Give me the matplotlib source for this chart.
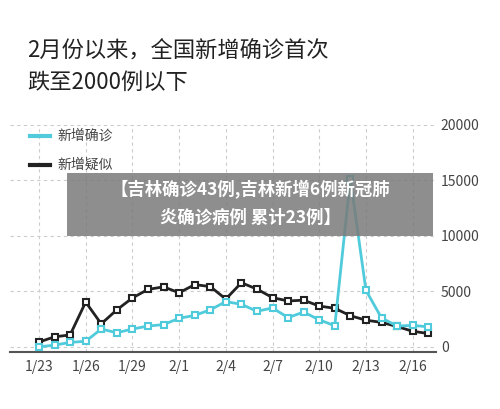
import matplotlib
matplotlib.use("Agg")
import matplotlib.pyplot as plt
from matplotlib.patches import Rectangle

plt.rcParams['font.family'] = ['Noto Sans CJK SC', 'DejaVu Sans']

dates = ['1/23','1/24','1/25','1/26','1/27','1/28','1/29','1/30','1/31','2/1','2/2','2/3','2/4',
         '2/5','2/6','2/7','2/8','2/9','2/10','2/11','2/12','2/13','2/14','2/15','2/16','2/17']
confirmed = [0, 150, 400, 500, 1600, 1270, 1600, 1870, 2000, 2570, 2830, 3330, 4070, 3830, 3200,
             3500, 2630, 3130, 2430, 1900, 15150, 5090, 2600, 1870, 1930, 1800]
suspected = [430, 900, 1070, 4030, 2070, 3330, 4400, 5170, 5400, 4870, 5600, 5430, 4300, 5770,
             5200, 4430, 4130, 4200, 3670, 3470, 2800, 2400, 2200, 1830, 1400, 1200]
tick_labels = ['1/23','1/26','1/29','2/1','2/4','2/7','2/10','2/13','2/16']
yticks = [0, 5000, 10000, 15000, 20000]

fig = plt.figure(figsize=(5, 4.09), dpi=100)
fig.patch.set_facecolor('white')
ax = fig.add_axes([0.02, 0.139, 0.852, 0.556])
x = list(range(len(dates)))
ax.plot(x, suspected, color='#222222', lw=2, marker='s', ms=4.5, mfc='white', mew=1.5, zorder=3)
ax.plot(x, confirmed, color='#4fcbdb', lw=2, marker='s', ms=4.5, mfc='white', mew=1.5, zorder=4)
ax.set_xlim(-1.86, 25.5)
ax.set_ylim(-480, 20000)
ax.set_xticks([dates.index(t) for t in tick_labels])
ax.set_xticklabels(tick_labels)
ax.yaxis.tick_right()
ax.set_yticks(yticks)
ax.set_yticklabels([str(v) for v in yticks])
ax.tick_params(length=0, labelsize=10, colors='#444444')
ax.tick_params(axis='x', pad=6)
ax.grid(True, color='#cccccc', ls=(0, (3, 3)), lw=0.8)
for s in ['top', 'right', 'left']:
    ax.spines[s].set_visible(False)
ax.spines['bottom'].set_color('#555555')
ax.spines['bottom'].set_linewidth(1.5)

fig.text(0.055, 0.875, '2月份以来，全国新增确诊首次', fontsize=16, weight='medium', color='#222222', va='center')
fig.text(0.055, 0.798, '跌至2000例以下', fontsize=16, weight='medium', color='#222222', va='center')

for yy, col, lab in [(0.668, '#4fcbdb', '新增确诊'), (0.596, '#222222', '新增疑似')]:
    fig.add_artist(plt.Line2D([0.06, 0.10], [yy, yy], color=col, lw=3, transform=fig.transFigure))
    fig.text(0.115, yy, lab, fontsize=10, color='#444444', va='center')

fig.add_artist(Rectangle((0.133, 0.423), 0.733, 0.154, transform=fig.transFigure,
                         facecolor='#7a7a7a', alpha=0.85, zorder=10))
fig.text(0.5, 0.537, '【吉林确诊43例,吉林新增6例新冠肺', fontsize=12.5, color='white',
         weight='bold', ha='center', va='center', zorder=11)
fig.text(0.5, 0.468, '炎确诊病例 累计23例】', fontsize=12.5, color='white',
         weight='bold', ha='center', va='center', zorder=11)

fig.savefig('out.png', dpi=100)
